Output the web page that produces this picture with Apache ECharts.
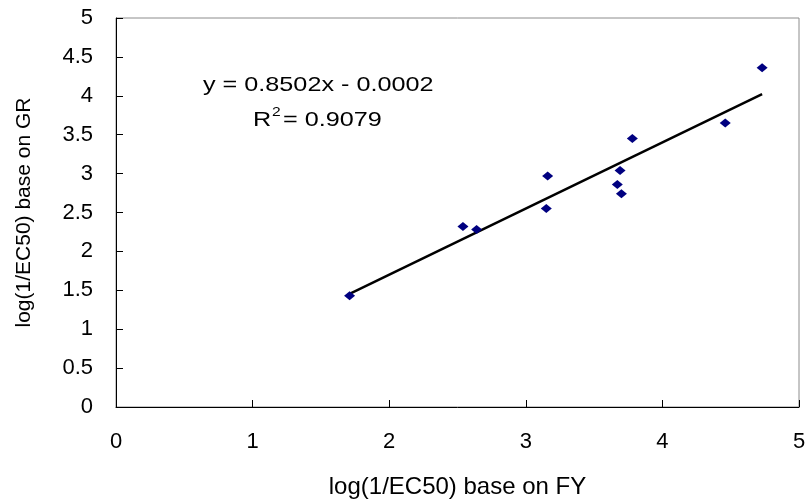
<!DOCTYPE html>
<html>
<head>
<meta charset="utf-8">
<script src="https://cdn.jsdelivr.net/npm/echarts@6/dist/echarts.min.js"></script>
<style>
  html, body { margin: 0; padding: 0; background: #fff; }
  #chart { width: 807px; height: 500px; }
</style>
</head>
<body>
<div id="chart"></div>
<script>
// log(1/EC50) values: FY-based (x) and GR-based (y)
const fyValues = [1.71, 2.54, 2.64, 3.15, 3.16, 3.67, 3.69, 3.70, 3.78, 4.46, 4.73];
const grValues = [1.43, 2.32, 2.28, 2.55, 2.97, 2.86, 3.04, 2.74, 3.45, 3.65, 4.36];

// linear fit reported on the chart
const slope = 0.8502;
const intercept = -0.0002;
const rSquared = 0.9079;

const xTicks = [0, 1, 2, 3, 4, 5];
const yTicks = [0, 0.5, 1, 1.5, 2, 2.5, 3, 3.5, 4, 4.5, 5];

const points = fyValues.map((x, i) => [x, grValues[i]]);
const xMin = Math.min(...fyValues);
const xMax = Math.max(...fyValues);
const fitLine = [xMin, xMax].map(x => [x, slope * x + intercept]);

const font = 'Liberation Sans, Arial, sans-serif';
const wide = 1.2; // horizontal stretch of the annotation text

const chart = echarts.init(document.getElementById('chart'), null, { renderer: 'canvas' });

chart.setOption({
  animation: false,
  backgroundColor: '#ffffff',
  grid: {
    left: 116, right: 8, top: 18, bottom: 93,
    containLabel: false,
    outerBoundsMode: 'none',
    show: true, borderColor: '#8c8c8c', borderWidth: 1, backgroundColor: 'transparent'
  },
  xAxis: {
    type: 'value',
    min: xTicks[0], max: xTicks[xTicks.length - 1], interval: 1,
    name: 'log(1/EC50) base on FY',
    nameLocation: 'middle', nameGap: 68,
    nameTextStyle: { fontFamily: font, fontSize: 24, color: '#000' },
    axisLine: { show: true, onZero: false, lineStyle: { color: '#000', width: 1 } },
    axisTick: { show: true, inside: true, length: 7, lineStyle: { color: '#000' } },
    axisLabel: { margin: 24, fontFamily: font, fontSize: 22, color: '#000' },
    splitLine: { show: false }
  },
  yAxis: {
    type: 'value',
    min: yTicks[0], max: yTicks[yTicks.length - 1], interval: 0.5,
    name: 'log(1/EC50) base on GR',
    nameLocation: 'middle', nameGap: 81,
    nameTextStyle: { fontFamily: font, fontSize: 21, color: '#000' },
    axisLine: { show: true, onZero: false, lineStyle: { color: '#000', width: 1 } },
    axisTick: { show: true, inside: true, length: 7, lineStyle: { color: '#000' } },
    axisLabel: { margin: 23, fontFamily: font, fontSize: 22, color: '#000' },
    splitLine: { show: false }
  },
  series: [
    {
      type: 'line',
      data: fitLine,
      symbol: 'none',
      lineStyle: { color: '#000', width: 2.5 },
      z: 2
    },
    {
      type: 'scatter',
      data: points,
      symbol: 'diamond',
      symbolSize: [11, 9],
      itemStyle: { color: '#000080', opacity: 1 },
      z: 3
    }
  ],
  graphic: [
    {
      type: 'text', left: 203, top: 75, scaleX: wide,
      style: {
        text: 'y = ' + slope.toFixed(4) + 'x - ' + Math.abs(intercept).toFixed(4),
        font: '21px ' + font, fill: '#000'
      }
    },
    {
      type: 'text', left: 253, top: 110, scaleX: wide,
      style: { text: 'R', font: '21px ' + font, fill: '#000' }
    },
    {
      type: 'text', left: 272, top: 106, scaleX: wide,
      style: { text: '2', font: '13px ' + font, fill: '#000' }
    },
    {
      type: 'text', left: 283, top: 110, scaleX: wide,
      style: { text: '= ' + rSquared.toFixed(4), font: '21px ' + font, fill: '#000' }
    }
  ]
});
</script>
</body>
</html>
